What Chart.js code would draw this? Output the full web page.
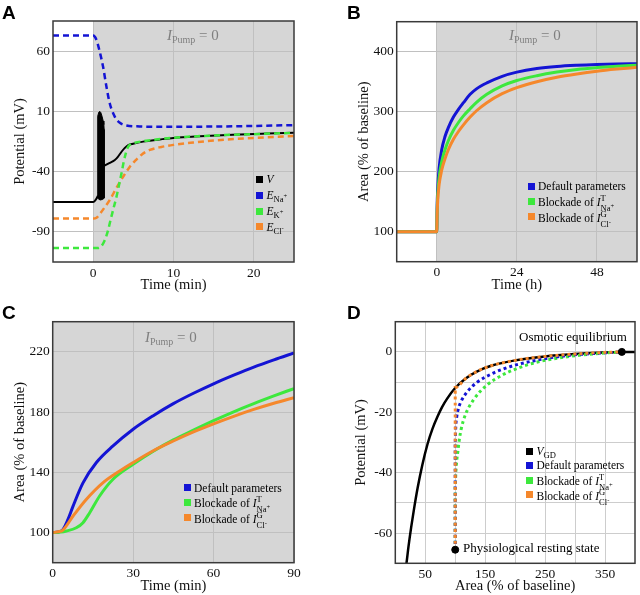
<!DOCTYPE html>
<html>
<head>
<meta charset="utf-8">
<script src="https://cdn.jsdelivr.net/npm/chart.js@4.4.1/dist/chart.umd.min.js"></script>
<style>
html, body { margin: 0; padding: 0; background: #fff; }
#wrap { position: relative; width: 640px; height: 595px; overflow: hidden; font-family: "Liberation Serif", serif; }
#wrap canvas { position: absolute; left: 0; top: 0; }
.lbl { position: absolute; font-family: "Liberation Sans", Arial, sans-serif; font-weight: bold; font-size: 19px; line-height: 1; }
.pump { position: absolute; color: #7f7f7f; font-size: 15px; line-height: 20px; white-space: nowrap; }
.pump sub { font-size: 10px; vertical-align: -3px; }
.leg { position: absolute; font-size: 11.5px; line-height: 14px; white-space: nowrap; }
.leg sub { font-size: 8.5px; vertical-align: -3px; }
.leg sub sup { font-size: 6.5px; vertical-align: 4px; }
.sw { position: absolute; width: 7px; height: 7px; }
.stk { display: inline-block; vertical-align: -5px; font-size: 8.5px; line-height: 8px; }
.stk span { display: block; }
.stk sup { font-size: 6.5px; vertical-align: 3px; }
.note { position: absolute; font-size: 13px; line-height: 18px; white-space: nowrap; }
</style>
</head>
<body>
<div id="wrap">
  <canvas id="cA" width="640" height="595"></canvas>
  <canvas id="cB" width="640" height="595"></canvas>
  <canvas id="cC" width="640" height="595"></canvas>
  <canvas id="cD" width="640" height="595"></canvas>

  <div class="lbl" style="left:2px;top:2.5px">A</div>
  <div class="lbl" style="left:347px;top:2.5px">B</div>
  <div class="lbl" style="left:2px;top:302.5px">C</div>
  <div class="lbl" style="left:347px;top:302.5px">D</div>

  <div class="pump" style="left:167px;top:25px"><i>I</i><sub>Pump</sub> = 0</div>
  <div class="pump" style="left:509px;top:25px"><i>I</i><sub>Pump</sub> = 0</div>
  <div class="pump" style="left:145px;top:327px"><i>I</i><sub>Pump</sub> = 0</div>

  <div class="note" style="left:519px;top:327.7px">Osmotic equilibrium</div>
  <div class="note" style="left:463px;top:538.7px">Physiological resting state</div>
  <div id="legends"></div>
</div>

<script>
// ---------- Panel A: potentials (mV) over time (min) ----------
const aTimeTicks = [0, 10, 20];
const aPotTicks = [-90, -40, 10, 60];
const aVTime = [-5, 0, 0.3, 0.6];
const aV = [-65.3, -65.3, -63.5, -60];
// outline of the burst of spikes (filled black)
const aSpikeTime = [0.6, 0.55, 0.55, 0.6, 0.7, 0.83, 0.95, 1.1, 1.25, 1.33, 1.37, 1.37, 1.2, 0.9, 0.7, 0.6];
const aSpikeV = [-62, -50, 0, 6, 9.3, 10, 9, 6, 2, -1, -5, -62, -63, -63.5, -63, -62];
const aVPostTime = [1.37, 2.0, 2.7, 3.1, 3.53, 3.94, 4.36, 4.98, 6.22, 8.3, 10, 13.3, 17.4, 21.6, 25];
const aVPost = [-35.2, -33, -30.3, -27.5, -23.5, -20.3, -18, -16.8, -15.1, -13.3, -12, -10.6, -9.3, -8.4, -7.8];
const aNaTime = [-5, 0, 0.25, 0.5, 0.8, 1.24, 1.66, 2.07, 2.7, 3.32, 4.15, 5.8, 9, 13.3, 20, 25];
const aNa = [72.9, 72.9, 71.5, 67.5, 60, 46.8, 30.2, 16.5, 5.5, 0.5, -1.7, -2.5, -2.8, -2.7, -2.1, -1.4];
const aKTime = [-5, 0.6, 1.0, 1.4, 1.8, 2.17, 2.55, 2.91, 3.22, 3.53, 3.8, 4.05, 4.36, 4.7, 5.2, 6.6, 10, 15, 20, 25];
const aK = [-103.4, -103.4, -102, -97.5, -90, -80, -70, -60.7, -51, -41.3, -32, -25, -19.3, -17, -16, -14.4, -11.9, -10, -8.9, -7.8];
const aClTime = [-5, 0, 0.42, 0.9, 1.5, 2.08, 2.9, 3.74, 4.5, 5.3, 6.1, 7.06, 8.5, 10, 12.5, 15, 20, 25];
const aCl = [-79, -79, -78.3, -74.5, -69, -63.4, -53.5, -44.1, -36.5, -30.5, -25.5, -22, -19.5, -17.8, -15.8, -14.2, -12, -10.5];

// ---------- Panel B: area (% of baseline) over time (h) ----------
const bTimeTicks = [0, 24, 48];
const bAreaTicks = [100, 200, 300, 400];
const bTime = [-12, 0, 0.1, 0.3, 0.7, 1.5, 2.5, 3.5, 5, 6.5, 8, 10, 12, 15, 19.6, 24, 30, 36, 42, 48, 54, 60];
const bDefault = [100, 100, 140, 172, 205, 237, 259, 274, 291, 304, 315, 329, 338.5, 348, 359, 366, 372, 375.5, 377.5, 378.8, 379.6, 380];
const bNaBlock = [100, 100, 132, 162, 190, 217, 237, 252, 269, 282, 293, 305, 316, 329, 343, 352, 360, 366, 370.5, 373.5, 375.8, 377.5];
const bClBlock = [100, 100, 126, 153, 178, 203, 222, 237, 254, 267, 278, 291, 302, 315, 330, 340, 350, 357.5, 363, 367.5, 371, 374];

// ---------- Panel C: area (% of baseline) over time (min) ----------
const cTimeTicks = [0, 30, 60, 90];
const cAreaTicks = [100, 140, 180, 220];
const cDefaultTime = [0, 2, 3.8, 5.7, 7.6, 11.3, 16.3, 22.5, 30, 37.5, 45, 52.5, 60, 67.5, 75, 82.5, 90];
const cDefault = [100, 100.4, 102, 108.8, 117.6, 133, 146.5, 157.5, 168.6, 177.6, 185.6, 192.5, 198.8, 204.5, 209.9, 214.7, 219.2];
const cNaBlockTime = [0, 3, 5.1, 8.8, 11.3, 13.8, 17.5, 22.5, 30, 37.5, 45, 52.5, 60, 67.5, 75, 82.5, 90];
const cNaBlock = [100, 100.3, 101, 103.2, 106.6, 113.2, 124.3, 135.4, 145.3, 154, 161.5, 168, 174.3, 180.2, 185.6, 190.7, 195.6];
const cClBlockTime = [0, 2, 3.8, 7.6, 12.5, 18.8, 25, 30, 37.5, 45, 52.5, 60, 67.5, 75, 82.5, 90];
const cClBlock = [100, 100.5, 101.7, 111, 122, 133.2, 140.9, 146.5, 154.3, 160.8, 166.8, 172.2, 177.2, 181.8, 185.9, 189.6];

// ---------- Panel D: potential (mV) against area (% of baseline) ----------
const dAreaTicks = [50, 100, 150, 200, 250, 300, 350];
const dAreaLabels = [50, 150, 250, 350];
const dPotTicks = [-60, -50, -40, -30, -20, -10, 0];
const dPotLabels = [-60, -40, -20, 0];
const dVgdArea = [16.5, 18.2, 22, 26.4, 31, 37.3, 45, 53.8, 62, 70.3, 78, 86.8, 100.6, 118, 136, 160, 200, 250, 300, 340, 378, 400];
const dVgd = [-73, -70.7, -64.5, -58.2, -52.3, -45, -37.5, -30.5, -25.5, -21.5, -18.3, -15.4, -11.8, -8.7, -6.5, -4.6, -2.8, -1.5, -0.7, -0.25, 0, 0];
const dDefaultArea = [100, 100, 100.8, 102.5, 105, 108.8, 119.7, 136.2, 163.7, 191.3, 232, 287, 341.8, 378];
const dDefault = [-65.5, -30, -25, -21.5, -19, -16.8, -13.3, -10.1, -7, -4.9, -2.9, -1.2, -0.4, 0];
const dNaBlockArea = [100, 100, 101, 102.5, 104.4, 106.5, 110, 117, 130.8, 152.7, 180.2, 196.7, 232, 287, 341.8, 378];
const dNaBlock = [-65.5, -45, -40, -36, -33, -29.5, -25.5, -20.8, -15.8, -11, -7.5, -6, -3.6, -1.6, -0.5, 0];
const dClBlockArea = [100, 100, 118, 136, 160, 200, 250, 300, 340, 378];
const dClBlock = [-65.5, -11.8, -8.7, -6.5, -4.6, -2.8, -1.5, -0.7, -0.25, 0];
const dStatesArea = [100, 378];
const dStates = [-65.5, 0];

// ---------- styling ----------
const BLUE = '#1414d4';
const GREEN = '#3de83d';
const ORANGE = '#f5882c';
const SHADE = '#d6d6d6';

function pts(xs, ys) {
    return xs.map((x, i) => ({ x: x, y: ys[i] }));
}

// Grey background from pump stop onwards + dark frame
const panelFrame = {
    id: 'panelFrame',
    beforeDraw(chart, args, opts) {
        if (opts.shadeFrom === null || opts.shadeFrom === undefined) return;
        const a = chart.chartArea;
        const x0 = Math.max(a.left, chart.scales.x.getPixelForValue(opts.shadeFrom));
        const ctx = chart.ctx;
        ctx.save();
        ctx.fillStyle = SHADE;
        ctx.fillRect(x0, a.top, a.right - x0, a.bottom - a.top);
        ctx.restore();
    },
    afterDraw(chart) {
        const a = chart.chartArea;
        const ctx = chart.ctx;
        ctx.save();
        ctx.strokeStyle = '#3a3a3a';
        ctx.lineWidth = 1.5;
        ctx.strokeRect(a.left, a.top, a.right - a.left, a.bottom - a.top);
        ctx.restore();
    }
};

const tickFont = { family: 'Liberation Serif', size: 13.5 };
const titleFont = { family: 'Liberation Serif', size: 14.5 };

function axis(min, max, ticks, labels, title, fitFn, gridColor) {
    return {
        type: 'linear',
        min: min,
        max: max,
        afterBuildTicks: s => { s.ticks = ticks.map(v => ({ value: v })); },
        afterFit: fitFn,
        border: { display: false },
        grid: { color: gridColor, lineWidth: 1, drawTicks: false },
        ticks: {
            font: tickFont,
            color: '#111',
            padding: 3,
            callback: v => (labels.includes(v) ? String(v) : '')
        },
        title: { display: true, text: title, font: titleFont, color: '#111', padding: { top: 0, bottom: 0 } }
    };
}

// box: chart area edges + y axis width + x axis height
function makePanel(id, box, cfg) {
    return new Chart(document.getElementById(id), {
        type: 'line',
        data: { datasets: cfg.datasets },
        options: {
            responsive: false,
            animation: false,
            events: [],
            layout: {
                padding: { left: box.l - box.yw, top: box.t, right: 640 - box.r, bottom: 595 - box.b - box.xh }
            },
            plugins: {
                legend: { display: false },
                tooltip: { enabled: false },
                panelFrame: { shadeFrom: cfg.shadeFrom }
            },
            elements: {
                point: { radius: 0 },
                line: { cubicInterpolationMode: 'monotone', fill: false }
            },
            scales: {
                x: axis(cfg.x[0], cfg.x[1], cfg.xTicks, cfg.xLabels, cfg.xTitle, s => { s.height = box.xh; }, cfg.grid),
                y: axis(cfg.y[0], cfg.y[1], cfg.yTicks, cfg.yLabels, cfg.yTitle, s => { s.width = box.yw; }, cfg.grid)
            }
        },
        plugins: [panelFrame]
    });
}

function dashed(xs, ys, color, order) {
    return { data: pts(xs, ys), borderColor: color, borderWidth: 2.5, borderDash: [6, 4], order: order };
}
function solid(xs, ys, color, width, order) {
    return { data: pts(xs, ys), borderColor: color, borderWidth: width, order: order };
}
function dotted(xs, ys, color, order) {
    return { data: pts(xs, ys), borderColor: color, borderWidth: 3, borderDash: [3, 3], order: order };
}

// Panel A
makePanel('cA', { l: 53, t: 21, r: 294, b: 262, yw: 42, xh: 32 }, {
    x: [-5, 25], y: [-115, 85],
    xTicks: aTimeTicks, xLabels: aTimeTicks, yTicks: aPotTicks, yLabels: aPotTicks,
    xTitle: 'Time (min)', yTitle: 'Potential (mV)', grid: '#c0c0c0', shadeFrom: 0,
    datasets: [
        dashed(aKTime, aK, GREEN, 0),
        dashed(aClTime, aCl, ORANGE, 1),
        dashed(aNaTime, aNa, BLUE, 2),
        solid(aVTime, aV, '#000', 2, 3),
        solid(aVPostTime, aVPost, '#000', 2, 3),
        {
            data: pts(aSpikeTime, aSpikeV), borderColor: '#000', backgroundColor: '#000',
            borderWidth: 1, fill: 'shape', tension: 0, cubicInterpolationMode: 'default', order: 3
        }
    ]
});

// Panel B
makePanel('cB', { l: 396.7, t: 21.7, r: 637, b: 261.7, yw: 41, xh: 32 }, {
    x: [-12, 60], y: [50, 450],
    xTicks: bTimeTicks, xLabels: bTimeTicks, yTicks: bAreaTicks, yLabels: bAreaTicks,
    xTitle: 'Time (h)', yTitle: 'Area (% of baseline)', grid: '#c0c0c0', shadeFrom: 0,
    datasets: [
        solid(bTime, bClBlock, ORANGE, 3, 0),
        solid(bTime, bNaBlock, GREEN, 3, 1),
        solid(bTime, bDefault, BLUE, 3, 2)
    ]
});

// Panel C
makePanel('cC', { l: 52.7, t: 321.7, r: 294, b: 562.7, yw: 41.3, xh: 32 }, {
    x: [0, 90], y: [80, 240],
    xTicks: cTimeTicks, xLabels: cTimeTicks, yTicks: cAreaTicks, yLabels: cAreaTicks,
    xTitle: 'Time (min)', yTitle: 'Area (% of baseline)', grid: '#c0c0c0', shadeFrom: 0,
    datasets: [
        solid(cClBlockTime, cClBlock, ORANGE, 3, 0),
        solid(cNaBlockTime, cNaBlock, GREEN, 3, 1),
        solid(cDefaultTime, cDefault, BLUE, 3, 2)
    ]
});

// Panel D
makePanel('cD', { l: 395.3, t: 321.7, r: 637.3, b: 563.3, yw: 42.4, xh: 31.4 }, {
    x: [0, 400], y: [-70, 10],
    xTicks: dAreaTicks, xLabels: dAreaLabels, yTicks: dPotTicks, yLabels: dPotLabels,
    xTitle: 'Area (% of baseline)', yTitle: 'Potential (mV)', grid: '#cdcdcd', shadeFrom: null,
    datasets: [
        {
            data: pts(dStatesArea, dStates), showLine: false, pointRadius: 3.5,
            pointBackgroundColor: '#000', pointBorderColor: '#000', order: -1
        },
        dotted(dClBlockArea, dClBlock, ORANGE, 0),
        dotted(dDefaultArea, dDefault, BLUE, 1),
        dotted(dNaBlockArea, dNaBlock, GREEN, 2),
        solid(dVgdArea, dVgd, '#000', 2.5, 3)
    ]
});

// ---------- legends (HTML, for sub/superscripts) ----------
const naT = '<i>I</i><span class="stk"><span>T</span><span>Na<sup>+</sup></span></span>';
const clG = '<i>I</i><span class="stk"><span>G</span><span>Cl<sup>-</sup></span></span>';

function addLegend(swLeft, textLeft, rows) {
    const host = document.getElementById('legends');
    rows.forEach(r => {
        const sw = document.createElement('div');
        sw.className = 'sw';
        sw.style.left = swLeft + 'px';
        sw.style.top = (r.cy - 3.5) + 'px';
        sw.style.background = r.color;
        host.appendChild(sw);
        const t = document.createElement('div');
        t.className = 'leg';
        t.style.left = textLeft + 'px';
        t.style.top = (r.cy - 7) + 'px';
        t.innerHTML = r.html;
        host.appendChild(t);
    });
}

addLegend(255.5, 266.5, [
    { cy: 179, color: '#000', html: '<i>V</i>' },
    { cy: 195, color: BLUE, html: '<i>E</i><sub>Na<sup>+</sup></sub>' },
    { cy: 211, color: GREEN, html: '<i>E</i><sub>K<sup>+</sup></sub>' },
    { cy: 226.7, color: ORANGE, html: '<i>E</i><sub>Cl<sup>-</sup></sub>' }
]);
addLegend(527.5, 538, [
    { cy: 186, color: BLUE, html: 'Default parameters' },
    { cy: 201.3, color: GREEN, html: 'Blockade of ' + naT },
    { cy: 216.7, color: ORANGE, html: 'Blockade of ' + clG }
]);
addLegend(184.2, 194, [
    { cy: 487.5, color: BLUE, html: 'Default parameters' },
    { cy: 502, color: GREEN, html: 'Blockade of ' + naT },
    { cy: 517.5, color: ORANGE, html: 'Blockade of ' + clG }
]);
addLegend(525.8, 536.5, [
    { cy: 451, color: '#000', html: '<i>V</i><sub>GD</sub>' },
    { cy: 465, color: BLUE, html: 'Default parameters' },
    { cy: 480, color: GREEN, html: 'Blockade of ' + naT },
    { cy: 494.5, color: ORANGE, html: 'Blockade of ' + clG }
]);
</script>
</body>
</html>
